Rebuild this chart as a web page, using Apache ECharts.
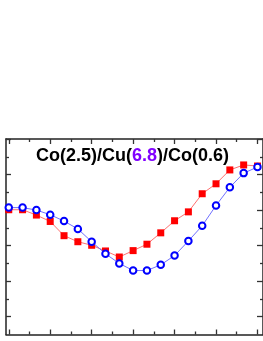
<!DOCTYPE html>
<html>
<head>
<meta charset="utf-8">
<script src="https://cdn.jsdelivr.net/npm/echarts@6/dist/echarts.min.js"></script>
<style>html,body{margin:0;padding:0;background:#fff;}#c{width:263px;height:341px;}</style>
</head>
<body>
<div id="c"></div>
<script>
// angle-like x values (points every 10)
var xValues = [0,10,20,30,40,50,60,70,80,90,100,110,120,130,140,150,160,170,180];
var redSeries = [4.01,4.01,3.86,3.68,3.28,3.11,3.01,2.85,2.68,2.86,3.04,3.36,3.70,3.95,4.46,4.74,5.13,5.27,5.24];
var blueSeries = [4.07,4.07,4.00,3.87,3.69,3.47,3.11,2.77,2.50,2.30,2.30,2.46,2.72,3.13,3.56,4.13,4.64,5.04,5.21];
var xMajorTicks = [0,30,60,90,120,150,180];
var xMinorTicks = [15,45,75,105,135,165];
var yMajorTicks = [1,2,3,4,5,6];
var yMinorTicks = [1.5,2.5,3.5,4.5,5.5];
var titleParts = ['Co(2.5)/Cu(', '6.8', ')/Co(0.6)'];

function pairs(xs, ys){ return xs.map(function(x,i){ return [x, ys[i]]; }); }

var X_MIN = -2, X_MAX = 184, Y_MIN = 0.5, Y_MAX = 6;
var lineCol = '#222';

function xAx(pos, ticks, len, showLine){
  return {
    type:'value', position:pos, min:X_MIN, max:X_MAX,
    axisLine:{show:showLine, lineStyle:{color:lineCol, width:1.5}},
    axisTick:{show:true, inside:true, length:len, customValues:ticks, lineStyle:{color:'#333', width:1.3}},
    axisLabel:{show:false}, splitLine:{show:false}
  };
}
function yAx(pos, ticks, len, showLine){
  return {
    type:'value', position:pos, min:Y_MIN, max:Y_MAX,
    axisLine:{show:showLine, onZero:false, lineStyle:{color:lineCol, width:1.5}},
    axisTick:{show:true, inside:true, length:len, customValues:ticks, lineStyle:{color:'#333', width:1.3}},
    axisLabel:{show:false}, splitLine:{show:false}
  };
}

var chart = echarts.init(document.getElementById('c'), null, {renderer:'canvas'});
chart.setOption({
  animation:false,
  backgroundColor:'#fff',
  grid:{left:6, top:139, width:261.7, height:195.5, containLabel:false},
  xAxis:[
    xAx('bottom', xMajorTicks, 5, true),
    xAx('bottom', xMinorTicks, 3, false),
    xAx('top', xMajorTicks, 5, true),
    xAx('top', xMinorTicks, 3, false)
  ],
  yAxis:[
    yAx('left', yMajorTicks, 5, true),
    yAx('left', yMinorTicks, 3, false),
    yAx('right', yMajorTicks, 6, true),
    yAx('right', yMinorTicks, 3, false)
  ],
  graphic:[{
    type:'text', left:36, top:147, z:100,
    style:{
      text:'{a|'+titleParts[0]+'}{b|'+titleParts[1]+'}{a|'+titleParts[2]+'}',
      rich:{
        a:{fontFamily:'Liberation Sans, Arial', fontWeight:'bold', fontSize:18, fill:'#000'},
        b:{fontFamily:'Liberation Sans, Arial', fontWeight:'bold', fontSize:18, fill:'#8000ff'}
      }
    }
  }],
  series:[
    {
      type:'line', xAxisIndex:0, yAxisIndex:0, data:pairs(xValues, redSeries),
      symbol:'rect', symbolSize:7,
      lineStyle:{color:'#ff7070', width:1},
      itemStyle:{color:'#ff0000', borderWidth:0},
      z:3
    },
    {
      type:'line', xAxisIndex:0, yAxisIndex:0, data:pairs(xValues, blueSeries),
      symbol:'circle', symbolSize:6.5,
      lineStyle:{color:'#7070ff', width:1},
      itemStyle:{color:'#ffffff', borderColor:'#0000ff', borderWidth:2},
      z:4
    }
  ]
});
</script>
</body>
</html>
